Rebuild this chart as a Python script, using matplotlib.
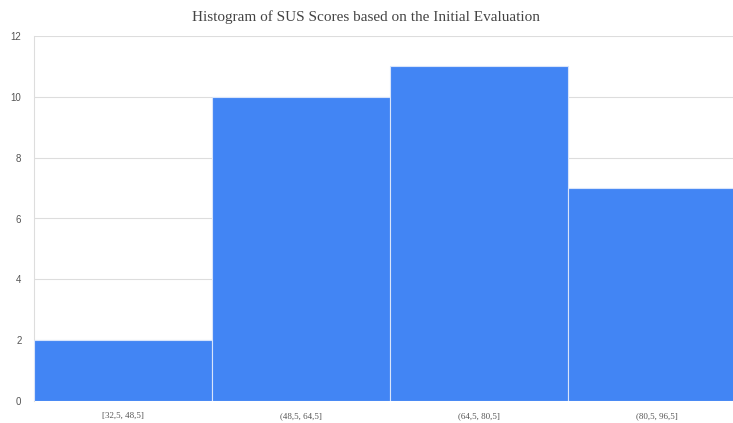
import matplotlib
matplotlib.use("Agg")
import matplotlib.pyplot as plt

bins = ["[32,5, 48,5]", "(48,5, 64,5]", "(64,5, 80,5]", "(80,5, 96,5]"]
counts = [2, 10, 11, 7]
yticks = [0, 2, 4, 6, 8, 10, 12]

fig = plt.figure(figsize=(7.33, 4.23), dpi=100)
# axes run past the right edge, as in the cropped reference
ax = fig.add_axes([34 / 733, 22 / 423, 712 / 733, 365 / 423])

x = range(len(bins))
ax.bar(x, counts, width=1.0, color="#4285F4", edgecolor="#d8e4fb", linewidth=0.8, zorder=3)
ax.set_xlim(-0.5, len(bins) - 0.5)
ax.set_ylim(0, 12)
ax.set_yticks(yticks)
ax.set_yticklabels([str(t) for t in yticks], fontsize=7, color="#555555", family="Liberation Sans")
ax.set_xticks(list(x))
ax.set_xticklabels(bins, fontsize=6.5, color="#555555", family="Liberation Serif")
ax.tick_params(axis="both", length=0)
ax.tick_params(axis="x", pad=8)
ax.tick_params(axis="y", pad=9)
ax.grid(True, axis="y", color="#dddddd", linewidth=0.8, zorder=0)
for side in ["top", "right", "bottom"]:
    ax.spines[side].set_visible(False)
ax.spines["left"].set_color("#dddddd")
ax.spines["left"].set_linewidth(0.8)

fig.text(0.5, 1 - 17 / 423, "Histogram of SUS Scores based on the Initial Evaluation",
         ha="center", va="center", fontsize=11, color="#444444", family="Liberation Serif")

fig.savefig("out.png", dpi=100)
